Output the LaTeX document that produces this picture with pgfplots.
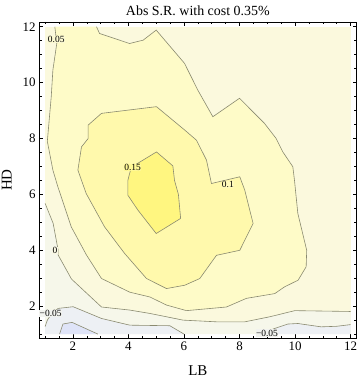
\documentclass[border=0pt]{standalone}
\usepackage{fontspec}
\setmainfont{Liberation Serif}
\usepackage{pgfplots}
\pgfplotsset{compat=1.18}
\usepackage{pgfplotstable}

% band colours, lowest to highest
\definecolor{cm3}{HTML}{DFE4F8}
\definecolor{cm2}{HTML}{EDF0F4}
\definecolor{cm1}{HTML}{F6F7EA}
\definecolor{c0}{HTML}{FBF9DD}
\definecolor{c1}{HTML}{FEFBC8}
\definecolor{c2}{HTML}{FFF9AC}
\definecolor{c3}{HTML}{FFF680}
\definecolor{cline}{HTML}{8A8A70}

% contour lines (LB, HD)
\pgfplotstableread{
x y
1.35 12
1.42 11.4
1.28 10.45
1.22 9.49
1.08 7.9
1.28 6.87
1.46 6.27
1.94 4.84
2.49 3.83
3.03 2.99
4.05 2.5
4.77 2.33
5.37 2.04
6.09 1.84
7.53 1.97
8.25 2.28
9.27 2.45
9.62 2.69
10.11 2.93
10.4 3.41
10.42 4.0
10.1 5.32
9.98 6.5
9.92 6.99
9.56 7.52
9.32 8.0
8.9 8.54
8.0 9.44
7.04 8.78
6.5 9.73
6.02 10.69
5.0 11.88
4.53 11.52
4.04 11.4
2.96 11.76
2.85 12
}\cfive

\pgfplotstableread{
x y
2.55 8.48
2.55 8.0
2.31 7.7
2.18 6.87
2.48 6.03
3.14 4.84
3.86 3.89
4.65 2.99
5.37 2.63
6.03 2.75
6.57 2.99
7.17 3.82
8.01 4.0
8.49 4.96
8.19 6.15
8.01 6.63
6.99 6.39
6.81 7.23
6.45 7.94
6.03 8.3
5.01 9.14
3.03 8.9
2.55 8.48
}\cten

\pgfplotstableread{
x y
4.1 6.97
3.98 6.5
3.98 5.97
4.34 5.44
5.0 4.6
5.88 5.14
5.8 6.0
5.66 6.5
5.6 7.02
5.01 7.52
4.1 6.97
}\cfifteen

\pgfplotstableread{
x y
1.0 5.68
1.29 4.96
1.47 4.0
1.47 3.83
1.95 2.97
3.03 1.97
4.05 1.86
4.77 1.74
5.97 1.5
7.17 1.44
8.19 1.44
9.09 1.62
9.99 1.84
12.0 1.81
}\czero

\pgfplotstableread{
x y
1.0 1.27
1.08 1.5
1.25 1.75
1.47 1.92
2.01 1.98
3.03 1.56
4.05 1.32
5.49 1.3
5.97 1.02
6.0 1.0
}\cmfiveL

\pgfplotstableread{
x y
8.75 1.0
9.26 1.2
9.74 1.36
10.1 1.38
10.94 1.26
11.5 1.28
12.0 1.34
}\cmfiveR

\pgfplotstableread{
x y
1.52 1.0
1.64 1.36
1.97 1.42
2.9 1.0
}\cmten

\begin{document}
\begin{tikzpicture}
\useasboundingbox (-39bp,-41.7bp) rectangle (321bp,338.3bp);
\begin{axis}[
    at={(0,0)}, anchor=south west,
    scale only axis,
    width=317.7bp, height=316.3bp,
    xmin=0.78, xmax=12.22,
    ymin=0.85, ymax=12.17,
    xtick={2,4,...,12}, ytick={2,4,...,12},
    minor xtick={1,1.5,...,12}, minor ytick={1,1.5,...,12},
    major tick length=4bp, minor tick length=2.5bp,
    tick style={black, line width=0.5bp},
    axis line style={line width=0.7bp},
    /pgf/number format/assume math mode=true,
    ticklabel style={font=\fontsize{13}{13}\selectfont},
    xticklabel style={anchor=base, yshift=-11.7bp},
    title={Abs S.R. with cost 0.35\%},
    title style={font=\fontsize{14}{14}\selectfont, at={(0.5,1)}, anchor=base, yshift=0.6bp},
    xlabel={LB}, ylabel={HD},
    label style={font=\fontsize{15}{15}\selectfont},
    xlabel style={at={(0.5,0)}, anchor=base, yshift=-36.7bp},
    ylabel style={at={(0,0.5)}, anchor=base, rotate=0, yshift=27.3bp},
    no markers,
]
% filled bands, lowest layer first
\addplot[draw=none, fill=c0] coordinates {(1,1) (12,1) (12,12) (1,12)} -- cycle;
\addplot[draw=none, fill=c1] table {\cfive} -- cycle;
\addplot[draw=none, fill=c2] table {\cten} -- cycle;
\addplot[draw=none, fill=c3] table {\cfifteen} -- cycle;
\addplot[draw=none, fill=cm1] coordinates {
(1.0,5.68) (1.29,4.96) (1.47,4.0) (1.47,3.83) (1.95,2.97) (3.03,1.97)
(4.05,1.86) (4.77,1.74) (5.97,1.5) (7.17,1.44) (8.19,1.44) (9.09,1.62)
(9.99,1.84) (12.0,1.81) (12,1) (1,1)} -- cycle;
\addplot[draw=none, fill=cm2] coordinates {
(1.0,1.27) (1.08,1.5) (1.25,1.75) (1.47,1.92) (2.01,1.98) (3.03,1.56)
(4.05,1.32) (5.49,1.3) (5.97,1.02) (6.0,1.0) (1,1)} -- cycle;
\addplot[draw=none, fill=cm2] coordinates {
(8.75,1.0) (9.26,1.2) (9.74,1.36) (10.1,1.38) (10.94,1.26) (11.5,1.28)
(12.0,1.34) (12,1)} -- cycle;
\addplot[draw=none, fill=cm3] table {\cmten} -- cycle;

% contour lines
\addplot[cline, line width=0.6bp] table {\cfive};
\addplot[cline, line width=0.6bp] table {\cten};
\addplot[cline, line width=0.6bp] table {\cfifteen};
\addplot[cline, line width=0.6bp] table {\czero};
\addplot[cline, line width=0.6bp] table {\cmfiveL};
\addplot[cline, line width=0.6bp] table {\cmfiveR};
\addplot[cline, line width=0.6bp] table {\cmten};

% contour labels
\begin{scope}[every node/.style={font=\fontsize{9.5}{9.5}\selectfont, inner sep=0.4bp}]
\node[fill=c0!50!c1] at (axis cs:1.40,11.55) {0.05};
\node[fill=c2!50!c3] at (axis cs:4.15,6.97) {0.15};
\node[fill=c1!50!c2] at (axis cs:7.58,6.36) {0.1};
\node[fill=c0!50!cm1] at (axis cs:1.36,4.0) {0};
\node[fill=cm1!50!cm2] at (axis cs:1.2,1.75) {−0.05};
\node[fill=cm1!50!cm2] at (axis cs:8.99,1.04) {−0.05};
\end{scope}
\end{axis}
\end{tikzpicture}
\end{document}
